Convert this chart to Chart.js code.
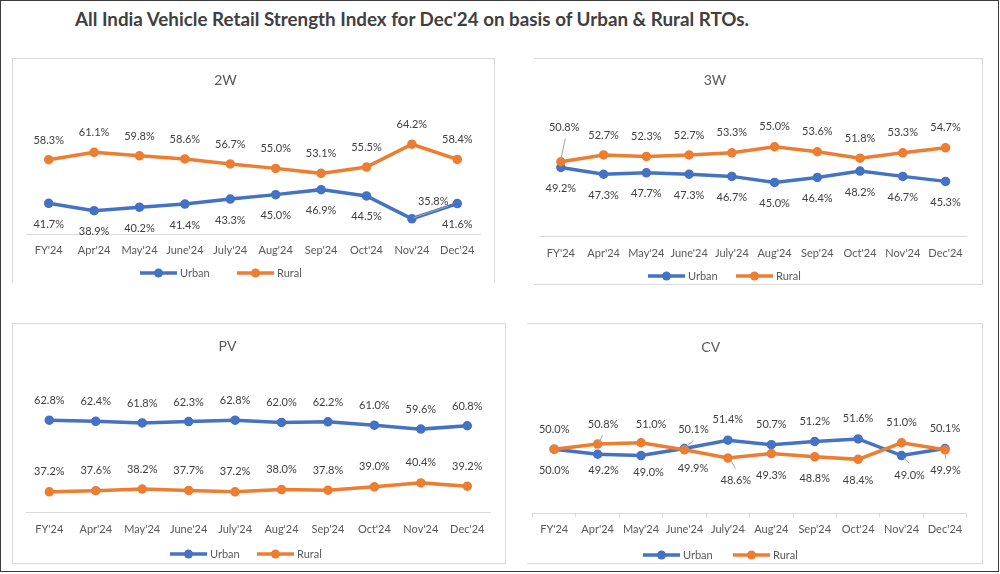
<!DOCTYPE html>
<html><head><meta charset="utf-8">
<script src="https://cdn.jsdelivr.net/npm/chart.js@4.4.1/dist/chart.umd.min.js"></script>
<style>
html,body{margin:0;padding:0;background:#fff;}
body{width:1000px;height:574px;position:relative;overflow:hidden;font-family:Lato,'Open Sans',sans-serif;}
#frame{position:absolute;left:0;top:0;width:997px;height:570px;border:1px solid #3b3b3b;}
#title{position:absolute;left:75px;top:8px;font-weight:bold;font-size:18.8px;line-height:22px;font-family:Lato,sans-serif;color:#404040;white-space:nowrap;}
canvas{position:absolute;}
.bd{position:absolute;box-sizing:border-box;border:1px solid #d9d9d9;pointer-events:none;}
</style></head><body>
<div id="frame"></div>
<div id="title">All India Vehicle Retail Strength Index for Dec'24 on basis of Urban &amp; Rural RTOs.</div>
<canvas id="c2w" width="483" height="224" style="left:12px;top:58px"></canvas>
<canvas id="c3w" width="449" height="227" style="left:534px;top:58px"></canvas>
<canvas id="cpv" width="494" height="241" style="left:12px;top:323px"></canvas>
<canvas id="ccv" width="456" height="241" style="left:527px;top:323px"></canvas>
<div class="bd" style="left:12px;top:58px;width:483px;height:224px;border-bottom:none"></div>
<div class="bd" style="left:534px;top:58px;width:449px;height:227px;border-left:none"></div>
<div class="bd" style="left:12px;top:323px;width:494px;height:241px"></div>
<div class="bd" style="left:527px;top:323px;width:456px;height:241px;border-left:none"></div>
<script>
// ---- data ----
const categories = ["FY'24","Apr'24","May'24","June'24","July'24","Aug'24","Sep'24","Oct'24","Nov'24","Dec'24"];
const seriesNames = ["Urban","Rural"];
const urban2W = [41.7,38.9,40.2,41.4,43.3,45.0,46.9,44.5,35.8,41.6];
const rural2W = [58.3,61.1,59.8,58.6,56.7,55.0,53.1,55.5,64.2,58.4];
const urban3W = [49.2,47.3,47.7,47.3,46.7,45.0,46.4,48.2,46.7,45.3];
const rural3W = [50.8,52.7,52.3,52.7,53.3,55.0,53.6,51.8,53.3,54.7];
const urbanPV = [62.8,62.4,61.8,62.3,62.8,62.0,62.2,61.0,59.6,60.8];
const ruralPV = [37.2,37.6,38.2,37.7,37.2,38.0,37.8,39.0,40.4,39.2];
const urbanCV = [50.0,49.2,49.0,50.1,51.4,50.7,51.2,51.6,49.0,50.1];
const ruralCV = [50.0,50.8,51.0,49.9,48.6,49.3,48.8,48.4,51.0,49.9];
const panelTitles = ["2W","3W","PV","CV"];

const BLUE = '#4472C4', ORANGE = '#ED7D31';
const FONT = 'Lato';

function fill(n, v){ return Array.from({length:n}, () => v.slice()); }

const decor = {
  id: 'decor',
  afterDatasetsDraw(chart, args, o) {
    const ctx = chart.ctx;
    ctx.save();
    ctx.strokeStyle = '#a6a6a6'; ctx.lineWidth = 1;
    (o.leaders || []).forEach(([ds, i, x1, y1, x2, y2]) => {
      const p = chart.getDatasetMeta(ds).data[i];
      ctx.beginPath(); ctx.moveTo(p.x + x1, p.y + y1); ctx.lineTo(p.x + x2, p.y + y2); ctx.stroke();
    });
    ctx.font = '11px ' + FONT; ctx.fillStyle = '#404040';
    ctx.textAlign = 'center'; ctx.textBaseline = 'middle';
    chart.data.datasets.forEach((d, ds) => {
      const meta = chart.getDatasetMeta(ds);
      meta.data.forEach((p, i) => {
        const [dx, dy] = o.place[ds][i];
        ctx.fillText(d.data[i].toFixed(1) + '%', p.x + dx, p.y + dy);
      });
    });
    // panel title
    ctx.font = '14px ' + FONT; ctx.fillStyle = '#595959';
    ctx.fillText(o.title, o.titleX, o.titleY);
    // legend
    ctx.font = '11px ' + FONT; ctx.textAlign = 'left';
    chart.data.datasets.forEach((d, ds) => {
      const x = o.legendX[ds], y = o.legendY;
      ctx.strokeStyle = d.borderColor; ctx.lineWidth = 3.5; ctx.lineCap = 'butt';
      ctx.beginPath(); ctx.moveTo(x, y); ctx.lineTo(x + 37, y); ctx.stroke();
      ctx.fillStyle = d.borderColor;
      ctx.beginPath(); ctx.arc(x + 18.5, y, 4.5, 0, Math.PI * 2); ctx.fill();
      ctx.fillStyle = '#595959';
      ctx.fillText(d.label, x + 40, y);
    });
    ctx.restore();
  }
};

function makeChart(id, c) {
  const common = { borderWidth: 3.5, pointRadius: 4, pointBorderWidth: 1.5, tension: 0, fill: false, clip: false };
  return new Chart(document.getElementById(id), {
    type: 'line',
    data: {
      labels: categories,
      datasets: [
        Object.assign({ label: seriesNames[0], data: c.urban, borderColor: BLUE, backgroundColor: BLUE, pointBackgroundColor: BLUE, pointBorderColor: BLUE, order: 1 }, common),
        Object.assign({ label: seriesNames[1], data: c.rural, borderColor: ORANGE, backgroundColor: ORANGE, pointBackgroundColor: ORANGE, pointBorderColor: ORANGE, order: 0 }, common)
      ]
    },
    options: {
      responsive: false, animation: false, devicePixelRatio: 1, events: [],
      layout: { padding: { left: c.pl, right: c.pr, top: c.pt, bottom: 0 } },
      scales: {
        x: {
          offset: true,
          grid: { display: !!c.tickMarks, offset: true, drawOnChartArea: false, drawTicks: !!c.tickMarks, tickLength: 4, color: '#d9d9d9' },
          border: { display: true, color: '#d9d9d9', width: 1 },
          ticks: { color: '#595959', font: { family: FONT, size: 11 }, padding: c.tickPad, maxRotation: 0, autoSkip: false },
          afterFit(s) { s.height = c.axisH; }
        },
        y: { display: false, min: c.min, max: c.max }
      },
      plugins: {
        legend: { display: false }, tooltip: { enabled: false }, title: { display: false },
        decor: { place: c.place, leaders: c.leaders, title: c.title, titleX: c.titleX, titleY: c.titleY, legendX: c.legendX, legendY: c.legendY }
      }
    },
    plugins: [decor]
  });
}

// 2W
const p2wU = fill(10, [0, 21]); p2wU[8] = [21.3, -17.7];
const p2wR = fill(10, [0, -19.5]);
makeChart('c2w', { urban: urban2W, rural: rural2W, min: 30, max: 70, pl: 14, pr: 15, pt: 71, axisH: 48, tickPad: 9.4,
  place: [p2wU, p2wR], leaders: [[0, 8, 1.5, -1, 36.5, -12.7]],
  title: panelTitles[0], titleX: 213.5, titleY: 22, legendX: [128, 225], legendY: 215 });

// 3W
const p3wU = fill(10, [0, 21]);
const p3wR = fill(10, [0, -20]); p3wR[0] = [3.4, -34];
makeChart('c3w', { urban: urban3W, rural: rural3W, min: 30, max: 60, pl: 1.7, pr: 16.1, pt: 70.9, axisH: 49, tickPad: 10.4,
  place: [p3wU, p3wR], leaders: [[1, 0, 4.4, -23.4, 0, -2.4]],
  title: panelTitles[1], titleX: 181, titleY: 22, legendX: [114, 202], legendY: 218 });

// PV
makeChart('cpv', { urban: urbanPV, rural: ruralPV, min: 30, max: 70, pl: 14.1, pr: 15.5, pt: 77, axisH: 52, tickPad: 10.4,
  place: [fill(10, [0, -19.5]), fill(10, [0, -20])], leaders: [],
  title: panelTitles[2], titleX: 215.5, titleY: 23.7, legendX: [158, 245], legendY: 231 });

// CV
const pcvU = [[0,21],[6,16.5],[7.5,16.5],[9,-19.5],[0,-20.5],[0,-20.5],[0,-20.5],[0,-20.5],[8,19.5],[0,-20.5]];
const pcvR = [[0,-20],[5.5,-20],[10,-18],[8.5,19],[8,22],[0,21.5],[0,21.5],[0,21],[0,-20.3],[0.5,21]];
makeChart('ccv', { urban: urbanCV, rural: ruralCV, min: 40, max: 60, pl: 0, pr: 16.3, pt: 62.3, axisH: 51, tickPad: 5.7, tickMarks: true,
  place: [pcvU, pcvR], leaders: [[0, 3, 2, -2, 9, -8], [0, 8, 2, 2, 8, 8], [1, 1, 1, -1, 5, -9], [1, 4, 2, 1, 7.6, 10.4], [1, 9, 0.5, 1, 0.5, 9]],
  title: panelTitles[3], titleX: 183.7, titleY: 24, legendX: [116, 206], legendY: 232 });
</script>
</body></html>
